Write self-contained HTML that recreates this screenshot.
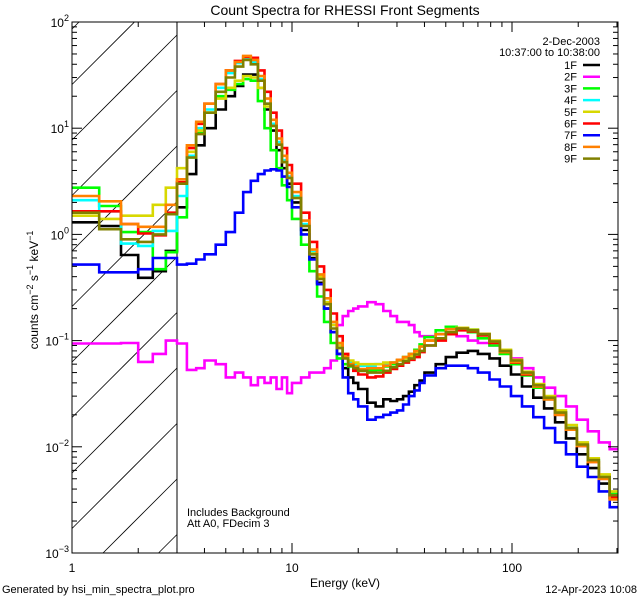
<!DOCTYPE html>
<html><head><meta charset="utf-8"><style>
html,body{margin:0;padding:0;background:#fff;width:640px;height:600px;overflow:hidden;}
svg{display:block;font-family:"Liberation Sans",sans-serif;}
</style></head><body>
<svg id="chart" width="640" height="600" viewBox="0 0 640 600">
<defs><clipPath id="pc"><rect x="72" y="22" width="546" height="531"/></clipPath></defs>
<rect x="0" y="0" width="640" height="600" fill="#fff"/>
<text x="345" y="15" font-size="14" text-anchor="middle">Count Spectra for RHESSI Front Segments</text>
<g id="hatch"></g>
<line x1="177" y1="22" x2="177" y2="553" stroke="#000" stroke-width="1"/>
<g id="series" clip-path="url(#pc)"></g>
<rect x="72" y="22" width="546" height="531" fill="none" stroke="#000" stroke-width="1"/>
<g id="axes"></g>
<text transform="translate(38,290) rotate(-90)" font-size="12" text-anchor="middle">counts cm<tspan baseline-shift="super" font-size="9">−2</tspan> s<tspan baseline-shift="super" font-size="9">−1</tspan> keV<tspan baseline-shift="super" font-size="9">−1</tspan></text>
<text x="345" y="587" font-size="12" text-anchor="middle">Energy (keV)</text>
<text x="2" y="593" font-size="11">Generated by hsi_min_spectra_plot.pro</text>
<text x="637" y="593" font-size="11" text-anchor="end">12-Apr-2023 10:08</text>
<text x="187" y="516" font-size="11">Includes Background</text>
<text x="187" y="527" font-size="11">Att A0, FDecim 3</text>
<text x="600" y="45" font-size="11" text-anchor="end">2-Dec-2003</text>
<text x="600" y="56" font-size="11" text-anchor="end">10:37:00 to 10:38:00</text>
<g id="legend"></g>
</svg>
<script>
const edges=[1,1.33,1.67,2,2.33,2.67,3,3.33,3.67,4,4.5,5,5.5,6,6.5,7,7.5,8,8.5,9,9.5,10,11,12,13,14,15,16,17,18,19,20,22,24,26,28,30,32,34,36,38,40,45,50,56,63,70,79,88,99,111,125,140,157,176,197,221,248,278,303];
const labels=["1F","2F","3F","4F","5F","6F","7F","8F","9F"];
const colors=["#000000","#ff00ff","#00ff00","#00ffff","#d8d800","#ff0000","#0000ff","#ff8000","#808000"];
const s1F=[1.3,1.2,0.64,0.39,0.45,0.7,1.8,3.7,6.9,10,15,20,25,32,32,24,15,9.5,6.2,4.2,3.0,2.0,1.1,0.6,0.35,0.2,0.12,0.075,0.055,0.045,0.04,0.035,0.026,0.024,0.028,0.027,0.028,0.03,0.033,0.038,0.042,0.05,0.06,0.07,0.077,0.08,0.075,0.068,0.058,0.048,0.037,0.029,0.023,0.017,0.012,0.0085,0.0063,0.0045,0.0033];
const s2F=[0.094,0.094,0.095,0.063,0.075,0.1,0.094,0.053,0.055,0.065,0.06,0.045,0.05,0.045,0.038,0.045,0.04,0.045,0.035,0.045,0.032,0.04,0.045,0.05,0.05,0.055,0.065,0.14,0.17,0.19,0.2,0.21,0.23,0.22,0.19,0.17,0.15,0.15,0.14,0.12,0.11,0.11,0.115,0.115,0.11,0.1,0.095,0.09,0.08,0.068,0.055,0.045,0.036,0.03,0.024,0.018,0.014,0.011,0.0095];
const s3F=[2.75,1.85,1.05,1.05,0.47,0.68,1.45,5.3,9,14,20,23,26,29,28,18,10,6.2,4.2,2.9,2.1,1.4,0.8,0.45,0.26,0.15,0.095,0.068,0.06,0.057,0.055,0.052,0.052,0.053,0.057,0.06,0.065,0.07,0.075,0.082,0.092,0.108,0.125,0.135,0.13,0.12,0.105,0.09,0.075,0.06,0.047,0.036,0.028,0.021,0.015,0.0105,0.0075,0.0052,0.0036];
const s4F=[2.1,1.65,0.82,0.78,1.08,1.08,2.3,5.5,10,15,24,33,41,46,42,29,17,11,7.4,5.0,3.5,2.3,1.25,0.68,0.4,0.23,0.14,0.09,0.07,0.062,0.06,0.058,0.058,0.06,0.06,0.062,0.065,0.068,0.072,0.078,0.088,0.1,0.115,0.128,0.132,0.127,0.116,0.098,0.08,0.064,0.05,0.038,0.029,0.021,0.015,0.0105,0.0074,0.0052,0.0035];
const s5F=[1.5,1.4,1.5,1.5,1.9,2.75,4.2,6,9.5,14,19,24,28,31,30,24,16,10.5,7,4.8,3.4,2.2,1.2,0.66,0.4,0.23,0.14,0.09,0.072,0.065,0.062,0.06,0.06,0.06,0.062,0.062,0.065,0.068,0.072,0.078,0.088,0.1,0.115,0.128,0.132,0.127,0.116,0.1,0.082,0.066,0.051,0.039,0.03,0.022,0.016,0.011,0.0078,0.0055,0.0038];
const s6F=[1.65,1.65,1.25,1.02,0.98,1.6,3.1,6.5,11,17,26,35,43,47,46,35,22,14,9.5,6.5,4.5,3.0,1.6,0.85,0.5,0.3,0.18,0.11,0.075,0.06,0.052,0.048,0.045,0.046,0.05,0.054,0.058,0.062,0.066,0.07,0.078,0.09,0.1,0.115,0.125,0.122,0.112,0.095,0.078,0.062,0.048,0.037,0.028,0.02,0.0145,0.0102,0.0072,0.005,0.0033];
const s7F=[0.52,0.44,0.44,0.47,0.6,0.6,0.52,0.53,0.58,0.65,0.8,1.05,1.6,2.5,3.2,3.7,4.0,4.1,4.0,3.5,2.8,1.8,1.0,0.58,0.34,0.2,0.12,0.075,0.045,0.032,0.028,0.024,0.018,0.019,0.02,0.021,0.022,0.025,0.03,0.034,0.04,0.047,0.055,0.058,0.058,0.055,0.05,0.043,0.037,0.03,0.024,0.019,0.015,0.011,0.0085,0.0065,0.0052,0.0038,0.0027];
const s8F=[2.3,2.05,1.25,1.18,1.18,1.9,3.3,6.9,11.5,17,26,35,42,48,44,31,19,12,8,5.5,3.8,2.5,1.35,0.72,0.42,0.25,0.15,0.095,0.07,0.06,0.057,0.054,0.055,0.055,0.058,0.062,0.066,0.07,0.075,0.08,0.088,0.1,0.115,0.128,0.13,0.125,0.115,0.098,0.078,0.063,0.049,0.037,0.028,0.02,0.0145,0.0102,0.0072,0.005,0.0032];
const s9F=[1.6,1.12,0.9,0.85,1.0,1.55,3.0,5.3,8.8,14,22,30,38,44,40,28,17,10.5,7,4.8,3.4,2.2,1.2,0.65,0.38,0.22,0.13,0.085,0.068,0.058,0.055,0.052,0.05,0.05,0.052,0.056,0.06,0.064,0.068,0.074,0.08,0.09,0.105,0.12,0.13,0.125,0.115,0.098,0.08,0.065,0.05,0.038,0.029,0.021,0.015,0.0105,0.0075,0.0052,0.0035];
const seriesData=[s1F,s2F,s3F,s4F,s5F,s6F,s7F,s8F,s9F];
const xTickLabels=["1","10","100"];
const yTickExps=["2","1","0","−1","−2","−3"];

const NS="http://www.w3.org/2000/svg";
const X0=72,X1=618,Y0=22,Y1=553,DX=220,DY=(Y1-Y0)/5;
function xs(e){return X0+DX*Math.log10(e);}
function ys(v){return Y0+DY*(2-Math.log10(v));}
function mk(t,a,p){const el=document.createElementNS(NS,t);for(const k in a)el.setAttribute(k,a[k]);p.appendChild(el);return el;}

const hatch=document.getElementById('hatch');
for(let c=473-55.5*8;c<=473+55.5*3;c+=55.5){
  let xa=72,ya=c,xb=177,yb=c-105;
  if(ya>Y1){xa=72+(ya-Y1);ya=Y1;}
  if(yb<Y0){xb=72+(c-Y0);yb=Y0;}
  if(xa>=xb)continue;
  const l=mk('line',{x1:xa,y1:ya,x2:xb,y2:yb,stroke:'#000','stroke-width':0.8},hatch);
  
  
}
const sg=document.getElementById('series');
seriesData.forEach((vals,i)=>{
  let d='';
  for(let b=0;b<vals.length;b++){
    const y=ys(vals[b]).toFixed(1);
    const xa=xs(edges[b]).toFixed(1),xb=xs(edges[b+1]).toFixed(1);
    d+=(b===0?'M':'L')+xa+','+y+'L'+xb+','+y;
  }
  const p=mk('path',{d:d,fill:'none',stroke:colors[i],'stroke-width':2.6,'stroke-linejoin':'miter'},sg);
  
  
});
const ax=document.getElementById('axes');
for(let dec=0;dec<3;dec++){
  for(let m=1;m<10;m++){
    const e=m*Math.pow(10,dec);const x=xs(e);if(x>X1)continue;
    const len=m===1?10:5;
    mk('line',{x1:x,y1:Y1,x2:x,y2:Y1-len,stroke:'#000'},ax);
    mk('line',{x1:x,y1:Y0,x2:x,y2:Y0+len,stroke:'#000'},ax);
  }
  const t=mk('text',{x:xs(Math.pow(10,dec)),y:572,'font-size':12,'text-anchor':'middle'},ax);
  t.textContent=xTickLabels[dec];
  
  
}
for(let k=0;k<6;k++){
  const p=2-k;const y=ys(Math.pow(10,p));
  mk('line',{x1:X0,y1:y,x2:X0+10,y2:y,stroke:'#000'},ax);
  mk('line',{x1:X1,y1:y,x2:X1-10,y2:y,stroke:'#000'},ax);
  if(k<5)for(let m=2;m<10;m++){
    const yy=ys(m*Math.pow(10,p-1));
    mk('line',{x1:X0,y1:yy,x2:X0+5,y2:yy,stroke:'#000'},ax);
    mk('line',{x1:X1,y1:yy,x2:X1-5,y2:yy,stroke:'#000'},ax);
  }
  const t=mk('text',{x:X0-3,y:y+5,'font-size':12,'text-anchor':'end'},ax);
  
  
  t.appendChild(document.createTextNode('10'));
  const sp=document.createElementNS(NS,'tspan');
  sp.setAttribute('dy','-6');sp.setAttribute('font-size','9');
  sp.textContent=yTickExps[k];t.appendChild(sp);
}
const lg=document.getElementById('legend');
labels.forEach((lab,i)=>{
  const y=65+i*11.7;
  const t=mk('text',{x:577,y:y+4,'font-size':11,'text-anchor':'end'},lg);
  t.textContent=lab;
  
  
  const l=mk('line',{x1:583,y1:y,x2:600,y2:y,stroke:colors[i],'stroke-width':2.5},lg);
  
  
});
</script>
</body></html>
